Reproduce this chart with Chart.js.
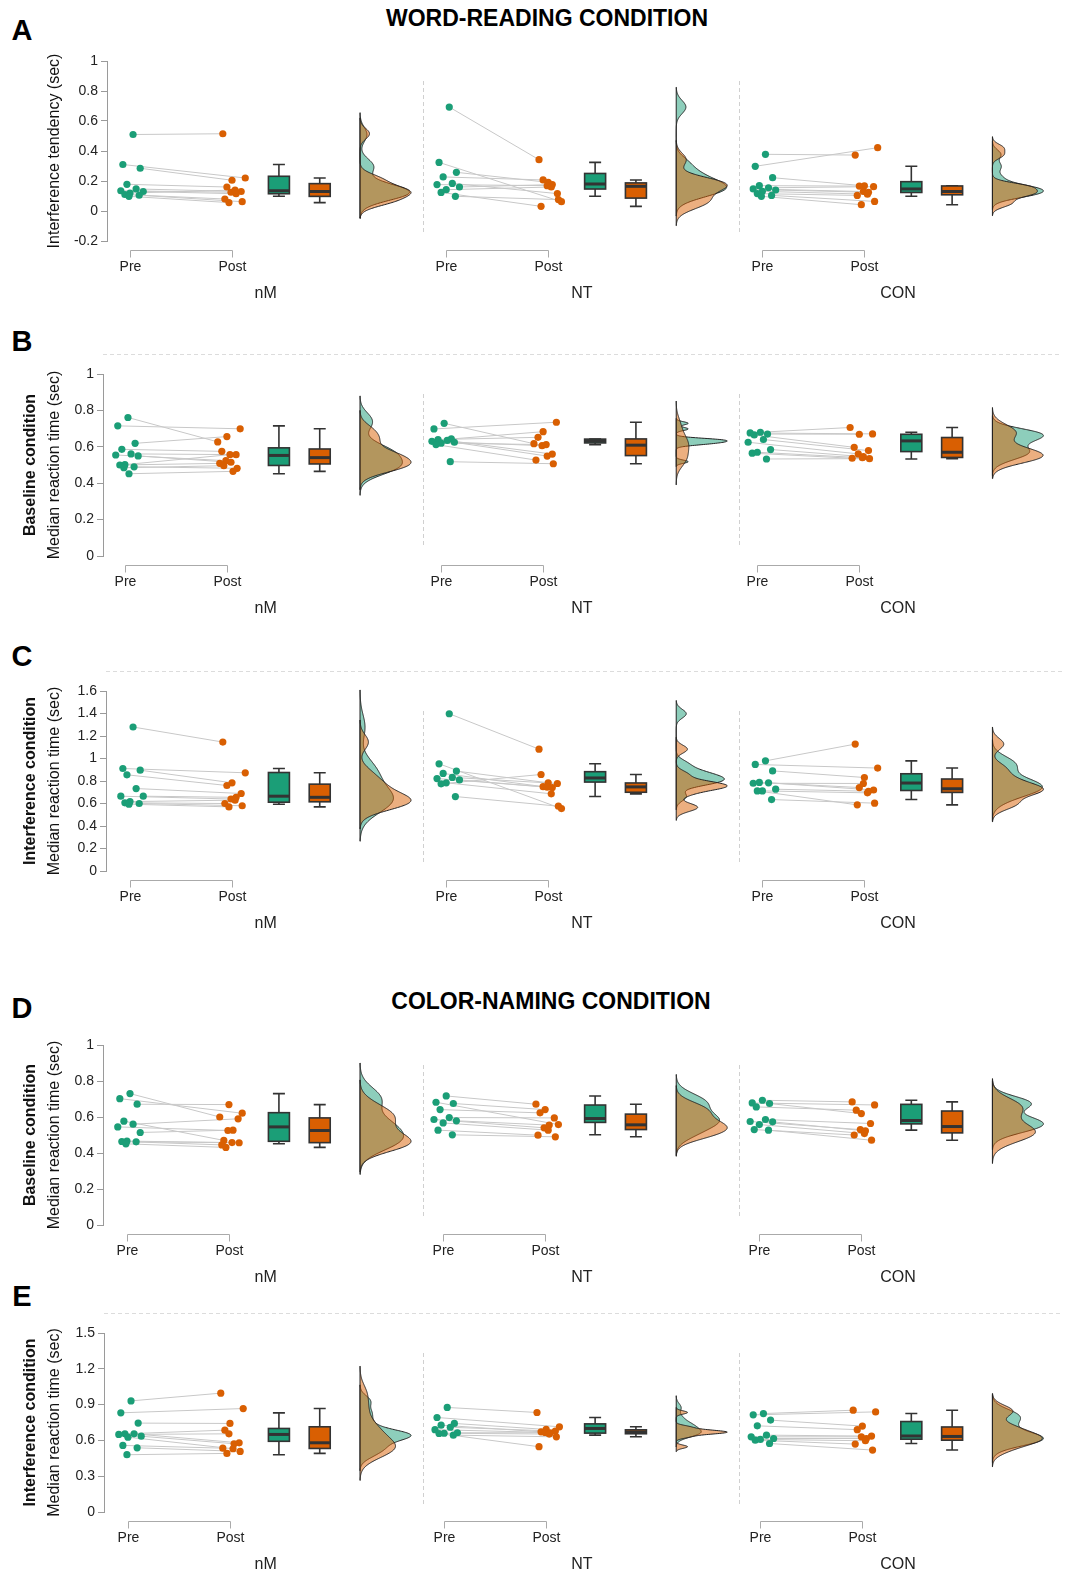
<!DOCTYPE html>
<html>
<head>
<meta charset="utf-8">
<script src="https://cdn.jsdelivr.net/npm/chart.js@4.4.1/dist/chart.umd.min.js"></script>
<style>
  body { margin: 0; background: #fff; }
  #wrap { position: relative; width: 1070px; height: 1574px; font-family: "Liberation Sans", Arial, sans-serif; }
  #wrap canvas { position: absolute; left: 0; }
  .txt { position: absolute; transform: translate(-50%, -50%); line-height: 1; font-weight: bold; color: #000; white-space: nowrap; }
  .letter { font-size: 29px; }
  .title { font-size: 23px; }
</style>
</head>
<body>
<div id="wrap">
  <div class="txt title" style="left:547px;top:18px">WORD-READING CONDITION</div>
  <div class="txt title" style="left:551px;top:1001px">COLOR-NAMING CONDITION</div>
  <div class="txt letter" style="left:22px;top:30px">A</div>
  <div class="txt letter" style="left:22px;top:341px">B</div>
  <div class="txt letter" style="left:22px;top:656px">C</div>
  <div class="txt letter" style="left:22px;top:1008px">D</div>
  <div class="txt letter" style="left:22px;top:1296px">E</div>
</div>
<script>
/* =====================================================
   DATA (seconds, one row per group: nM, NT, CON)
===================================================== */
const groupNames = ["nM", "NT", "CON"];
const timeNames = ["Pre", "Post"];

// A - word reading, interference tendency
const aTicks = [-0.2, 0, 0.2, 0.4, 0.6, 0.8, 1];
const aPre = [
  [0.51, 0.31, 0.285, 0.178, 0.147, 0.135, 0.13, 0.12, 0.11, 0.105, 0.098],
  [0.693, 0.324, 0.258, 0.227, 0.184, 0.176, 0.16, 0.142, 0.124, 0.098],
  [0.378, 0.298, 0.222, 0.169, 0.155, 0.147, 0.14, 0.131, 0.116, 0.104, 0.098]
];
const aPost = [
  [0.515, 0.22, 0.205, 0.16, 0.13, 0.125, 0.115, 0.14, 0.08, 0.062, 0.056],
  [0.342, 0.062, 0.191, 0.207, 0.116, 0.169, 0.176, 0.16, 0.031, 0.076],
  [0.373, 0.422, 0.168, 0.166, 0.162, 0.13, 0.125, 0.112, 0.104, 0.064, 0.042]
];

// B - word reading, baseline condition
const bTicks = [0, 0.2, 0.4, 0.6, 0.8, 1];
const bPre = [
  [0.761, 0.715, 0.619, 0.586, 0.561, 0.555, 0.55, 0.502, 0.5, 0.49, 0.485, 0.452],
  [0.729, 0.698, 0.643, 0.64, 0.635, 0.63, 0.625, 0.62, 0.612, 0.518],
  [0.68, 0.676, 0.67, 0.665, 0.64, 0.625, 0.585, 0.57, 0.565, 0.533]
];
const bPost = [
  [0.627, 0.699, 0.656, 0.575, 0.557, 0.524, 0.515, 0.557, 0.509, 0.482, 0.496, 0.465],
  [0.617, 0.735, 0.683, 0.652, 0.56, 0.606, 0.549, 0.612, 0.527, 0.507],
  [0.706, 0.671, 0.669, 0.597, 0.579, 0.561, 0.546, 0.54, 0.537, 0.535]
];

// C - word reading, interference condition
const cTicks = [0, 0.2, 0.4, 0.6, 0.8, 1, 1.2, 1.4, 1.6];
const cPre = [
  [1.28, 0.911, 0.896, 0.855, 0.733, 0.665, 0.665, 0.617, 0.606, 0.6, 0.594],
  [1.398, 0.953, 0.888, 0.867, 0.832, 0.822, 0.81, 0.784, 0.775, 0.662],
  [0.979, 0.947, 0.89, 0.787, 0.784, 0.78, 0.727, 0.712, 0.712, 0.635]
];
const cPost = [
  [1.146, 0.873, 0.784, 0.76, 0.689, 0.64, 0.655, 0.63, 0.6, 0.58, 0.57],
  [1.083, 0.555, 0.784, 0.75, 0.778, 0.745, 0.742, 0.686, 0.858, 0.576],
  [1.128, 0.915, 0.831, 0.742, 0.72, 0.778, 0.709, 0.695, 0.588, 0.603]
];

// D - color naming, baseline condition
const dTicks = [0, 0.2, 0.4, 0.6, 0.8, 1];
const dPre = [
  [0.73, 0.702, 0.671, 0.577, 0.56, 0.545, 0.514, 0.466, 0.464, 0.462, 0.451],
  [0.717, 0.682, 0.675, 0.641, 0.597, 0.586, 0.579, 0.567, 0.527, 0.501],
  [0.693, 0.678, 0.675, 0.656, 0.586, 0.575, 0.573, 0.558, 0.53, 0.527]
];
const dPost = [
  [0.6, 0.621, 0.669, 0.47, 0.59, 0.525, 0.527, 0.458, 0.445, 0.457, 0.431],
  [0.671, 0.558, 0.641, 0.623, 0.595, 0.54, 0.555, 0.527, 0.499, 0.49],
  [0.684, 0.667, 0.619, 0.638, 0.564, 0.53, 0.523, 0.508, 0.5, 0.471]
];

// E - color naming, interference condition
const eTicks = [0, 0.3, 0.6, 0.9, 1.2, 1.5];
const ePre = [
  [0.931, 0.831, 0.745, 0.655, 0.655, 0.65, 0.635, 0.627, 0.558, 0.538, 0.48],
  [0.876, 0.792, 0.742, 0.728, 0.71, 0.69, 0.664, 0.66, 0.658, 0.644],
  [0.825, 0.814, 0.77, 0.722, 0.644, 0.63, 0.616, 0.608, 0.602, 0.574]
];
const ePost = [
  [0.996, 0.867, 0.742, 0.686, 0.58, 0.655, 0.572, 0.53, 0.535, 0.508, 0.491],
  [0.834, 0.714, 0.692, 0.672, 0.678, 0.667, 0.664, 0.653, 0.547, 0.63],
  [0.853, 0.839, 0.72, 0.69, 0.636, 0.63, 0.616, 0.597, 0.569, 0.519]
];

/* =====================================================
   LAYOUT / STYLE
===================================================== */
const GREEN = "#1b9e77";
const ORANGE = "#d95f02";
const FONT = '"Liberation Sans", Arial, sans-serif';
const UNIT = 102;          // px per x unit
const ORIGIN = 130;        // px of x = 0
const GAP = 3.1;           // distance between groups (x units)
const BOX_G = 1.46, BOX_O = 1.86, DENS = 2.255, DENS_W = 0.5, SEP = 2.87;
const JITTER = [0.03, -0.07, 0.1, -0.03, 0.06, -0.09, 0.13, 0.0, -0.05, 0.09, -0.01, 0.04];

const panels = [
  { letter: "A", pre: aPre, post: aPost, ticks: aTicks, top: 0, height: 310, yTop: 61, yBottom: 241, axisX: 107, shift: 0, bold: null, label: "Interference tendency (sec)", rule: false },
  { letter: "B", pre: bPre, post: bPost, ticks: bTicks, top: 310, height: 315, yTop: 374, yBottom: 556, axisX: 103, shift: -0.05, bold: "Baseline condition", label: "Median reaction time (sec)", rule: true },
  { letter: "C", pre: cPre, post: cPost, ticks: cTicks, top: 625, height: 320, yTop: 691, yBottom: 871, axisX: 106, shift: 0, bold: "Interference condition", label: "Median reaction time (sec)", rule: true },
  { letter: "D", pre: dPre, post: dPost, ticks: dTicks, top: 945, height: 345, yTop: 1045, yBottom: 1225, axisX: 103, shift: -0.03, bold: "Baseline condition", label: "Median reaction time (sec)", rule: false },
  { letter: "E", pre: ePre, post: ePost, ticks: eTicks, top: 1290, height: 284, yTop: 1333, yBottom: 1512, axisX: 104, shift: -0.02, bold: "Interference condition", label: "Median reaction time (sec)", rule: true }
];

/* =====================================================
   STATS
===================================================== */
function quantile(sorted, p) {
  const h = (sorted.length - 1) * p;
  const i = Math.floor(h);
  if (i + 1 >= sorted.length) return sorted[i];
  return sorted[i] + (h - i) * (sorted[i + 1] - sorted[i]);
}

function boxStats(values) {
  const s = [...values].sort((a, b) => a - b);
  const q1 = quantile(s, 0.25), med = quantile(s, 0.5), q3 = quantile(s, 0.75);
  const iqr = q3 - q1;
  const lo = s.find(v => v >= q1 - 1.5 * iqr);
  const hi = [...s].reverse().find(v => v <= q3 + 1.5 * iqr);
  return { q1, med, q3, lo, hi };
}

function kde(values) {
  const s = [...values].sort((a, b) => a - b);
  const n = s.length;
  const mean = s.reduce((a, b) => a + b, 0) / n;
  const sd = Math.sqrt(s.reduce((a, b) => a + (b - mean) ** 2, 0) / (n - 1));
  const iqr = quantile(s, 0.75) - quantile(s, 0.25);
  const spread = Math.min(sd, iqr / 1.34) || sd;
  const bw = 0.9 * spread * Math.pow(n, -0.2);
  const from = s[0] - 3 * bw, to = s[n - 1] + 3 * bw;
  const pts = [];
  for (let k = 0; k <= 240; k++) {
    const yv = from + (to - from) * k / 240;
    let d = 0;
    for (const v of s) {
      const z = (yv - v) / bw;
      d += Math.exp(-0.5 * z * z);
    }
    pts.push([yv, d / (n * bw * Math.sqrt(2 * Math.PI))]);
  }
  return pts;
}

/* =====================================================
   DRAWING PLUGIN
===================================================== */
function rainPlugin(p) {
  return {
    id: "rain" + p.letter,
    beforeDatasetsDraw(chart) {
      const { ctx, chartArea: a, scales: { x, y } } = chart;
      ctx.save();

      // dashed separators between groups
      ctx.strokeStyle = "#d0d0d0";
      ctx.lineWidth = 1;
      ctx.setLineDash([4, 3]);
      for (let g = 0; g < 2; g++) {
        const px = Math.round(x.getPixelForValue(g * GAP + SEP)) + 0.5;
        ctx.beginPath();
        ctx.moveTo(px, a.top + 20);
        ctx.lineTo(px, a.bottom - 8);
        ctx.stroke();
      }
      ctx.setLineDash([]);

      for (let g = 0; g < 3; g++) {
        const off = g * GAP;

        // densities (green under orange)
        const dens = [kde(p.pre[g]), kde(p.post[g])];
        const maxD = Math.max(...dens.flat().map(q => q[1]));
        const fills = ["rgba(27,158,119,0.5)", "rgba(217,95,2,0.5)"];
        dens.forEach((pts, k) => {
          const base = x.getPixelForValue(off + DENS);
          ctx.beginPath();
          ctx.moveTo(base, y.getPixelForValue(pts[0][0]));
          pts.forEach(([yv, d]) => ctx.lineTo(x.getPixelForValue(off + DENS + d / maxD * DENS_W), y.getPixelForValue(yv)));
          ctx.lineTo(base, y.getPixelForValue(pts[pts.length - 1][0]));
          ctx.closePath();
          ctx.fillStyle = fills[k];
          ctx.fill();
          ctx.strokeStyle = "#222";
          ctx.lineWidth = 1;
          ctx.stroke();
        });

        // box plots
        [[p.pre[g], BOX_G, GREEN], [p.post[g], BOX_O, ORANGE]].forEach(([vals, bx, col]) => {
          const st = boxStats(vals);
          const cx = x.getPixelForValue(off + bx);
          const hw = 10.5, cap = 6;
          const py = v => y.getPixelForValue(v);
          ctx.strokeStyle = "#333";
          ctx.lineWidth = 1.6;
          ctx.beginPath();
          ctx.moveTo(cx, py(st.q3)); ctx.lineTo(cx, py(st.hi));
          ctx.moveTo(cx - cap, py(st.hi)); ctx.lineTo(cx + cap, py(st.hi));
          ctx.moveTo(cx, py(st.q1)); ctx.lineTo(cx, py(st.lo));
          ctx.moveTo(cx - cap, py(st.lo)); ctx.lineTo(cx + cap, py(st.lo));
          ctx.stroke();
          ctx.fillStyle = col;
          ctx.fillRect(cx - hw, py(st.q3), hw * 2, py(st.q1) - py(st.q3));
          ctx.strokeRect(cx - hw, py(st.q3), hw * 2, py(st.q1) - py(st.q3));
          ctx.lineWidth = 3;
          ctx.beginPath();
          ctx.moveTo(cx - hw, py(st.med)); ctx.lineTo(cx + hw, py(st.med));
          ctx.stroke();
        });
      }
      ctx.restore();
    },
    afterDraw(chart) {
      const { ctx, chartArea: a, scales: { x } } = chart;
      ctx.save();

      // dashed rule above the panel
      if (p.rule) {
        ctx.strokeStyle = "#dcdcdc";
        ctx.setLineDash([4, 3]);
        ctx.lineWidth = 1;
        ctx.beginPath();
        ctx.moveTo(a.left, Math.round(a.top - 20) + 0.5);
        ctx.lineTo(1062, Math.round(a.top - 20) + 0.5);
        ctx.stroke();
        ctx.setLineDash([]);
      }

      // Pre / Post brackets and group names
      ctx.fillStyle = "#222";
      ctx.textAlign = "center";
      ctx.textBaseline = "middle";
      for (let g = 0; g < 3; g++) {
        const off = g * GAP + p.shift;
        const x0 = Math.round(x.getPixelForValue(off)) + 0.5;
        const x1 = Math.round(x.getPixelForValue(off + 1)) + 0.5;
        const by = Math.round(a.bottom + 9) + 0.5;
        ctx.strokeStyle = "#aaa";
        ctx.lineWidth = 1;
        ctx.beginPath();
        ctx.moveTo(x0, by + 7); ctx.lineTo(x0, by); ctx.lineTo(x1, by); ctx.lineTo(x1, by + 7);
        ctx.stroke();
        ctx.font = "14px " + FONT;
        ctx.fillText(timeNames[0], x0, a.bottom + 26);
        ctx.fillText(timeNames[1], x1, a.bottom + 26);
        ctx.font = "16px " + FONT;
        ctx.fillText(groupNames[g], x.getPixelForValue(g * GAP + 1.33), a.bottom + 53);
      }

      // y titles
      const mid = (a.top + a.bottom) / 2;
      ctx.translate(0, mid);
      ctx.rotate(-Math.PI / 2);
      ctx.fillStyle = "#111";
      ctx.font = "16px " + FONT;
      ctx.fillText(p.label, 0, 55);
      if (p.bold) {
        ctx.font = "bold 16px " + FONT;
        ctx.fillText(p.bold, 0, 31);
      }
      ctx.restore();
    }
  };
}

/* =====================================================
   CHARTS
===================================================== */
function makePanel(p) {
  const canvas = document.createElement("canvas");
  canvas.width = 1070;
  canvas.height = p.height;
  canvas.style.width = "1070px";
  canvas.style.height = p.height + "px";
  canvas.style.top = p.top + "px";
  document.getElementById("wrap").appendChild(canvas);

  const xMin = -(ORIGIN - p.axisX) / UNIT;
  const xMax = xMin + (1062 - p.axisX) / UNIT;

  const datasets = [];
  for (let g = 0; g < 3; g++) {
    const off = g * GAP + p.shift;
    const prePts = p.pre[g].map((v, i) => ({ x: off + JITTER[i % 12], y: v }));
    const postPts = p.post[g].map((v, i) => ({ x: off + 1 + JITTER[(i + 5) % 12], y: v }));
    const links = [];
    prePts.forEach((pt, i) => {
      links.push(pt, postPts[i], { x: off + 0.5, y: null });
    });
    datasets.push({ data: prePts, backgroundColor: GREEN, pointRadius: 3.6, pointBorderWidth: 0, order: 0, clip: false });
    datasets.push({ data: postPts, backgroundColor: ORANGE, pointRadius: 3.6, pointBorderWidth: 0, order: 0, clip: false });
    datasets.push({ data: links, showLine: true, spanGaps: false, borderColor: "#c8c8c8", borderWidth: 1, pointRadius: 0, order: 1, clip: false });
  }

  new Chart(canvas, {
    type: "scatter",
    data: { datasets },
    options: {
      responsive: false,
      animation: false,
      devicePixelRatio: 1,
      layout: { padding: { top: p.yTop - p.top, bottom: p.top + p.height - p.yBottom, left: 0, right: 8 } },
      plugins: { legend: { display: false }, tooltip: { enabled: false } },
      scales: {
        x: { type: "linear", display: false, min: xMin, max: xMax },
        y: {
          min: p.ticks[0],
          max: p.ticks[p.ticks.length - 1],
          afterFit: s => { s.width = p.axisX; },
          afterBuildTicks: s => { s.ticks = p.ticks.map(v => ({ value: v })); },
          grid: { drawOnChartArea: false, drawTicks: true, tickLength: 6, color: "#9a9a9a" },
          border: { display: true, color: "#9a9a9a" },
          ticks: {
            padding: 3,
            color: "#222",
            font: { family: FONT, size: 14 },
            callback: v => String(+Number(v).toFixed(2))
          }
        }
      }
    },
    plugins: [rainPlugin(p)]
  });
}

panels.forEach(makePanel);
</script>
</body>
</html>
